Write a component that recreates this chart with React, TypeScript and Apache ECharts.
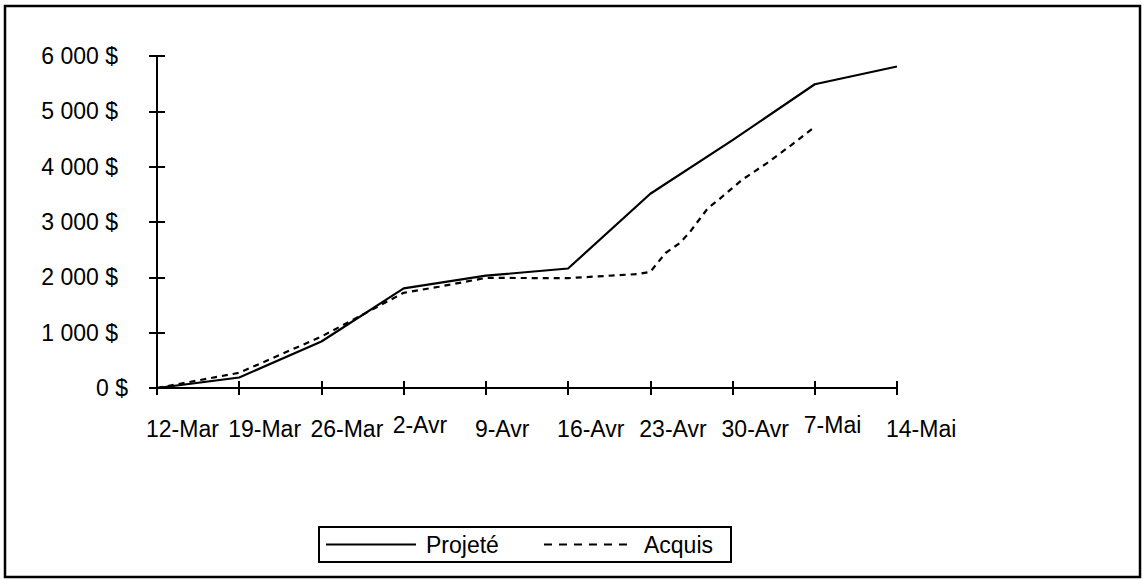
import React, { useEffect, useRef } from "react";
import * as echarts from "echarts";

const tickLabels = ["12-Mar", "19-Mar", "26-Mar", "2-Avr", "9-Avr", "16-Avr", "23-Avr", "30-Avr", "7-Mai", "14-Mai"];
const raisedLabels = ["2-Avr", "7-Mai"];
const projeteDays = [0, 7, 14, 21, 28, 35, 42, 49, 56, 63];
const projeteValues = [0, 190, 840, 1800, 2030, 2160, 3510, 4480, 5490, 5810];
const acquisDays = [0, 7, 14, 21, 24, 28, 35, 41, 42, 43.3, 44.5, 45.3, 46.9, 47.8, 49.8, 51.9, 54, 56];
const acquisValues = [0, 275, 930, 1720, 1830, 1990, 1985, 2060, 2100, 2440, 2620, 2800, 3250, 3400, 3760, 4060, 4390, 4720];
const seriesNames = ["Projeté", "Acquis"];

const FONT = "'Liberation Sans', Arial, sans-serif";
const FS = 23;

function fmtMoney(v: number): string {
  const s = String(Math.round(v));
  return s.replace(/\B(?=(\d{3})+(?!\d))/g, " ") + " $";
}

export default function App() {
  const ref = useRef<HTMLDivElement>(null);
  useEffect(() => {
    if (!ref.current) return;
    const chart = echarts.init(ref.current, null, { renderer: "svg" });
    const textBase = { fontFamily: FONT, fontSize: FS, color: "#000" };
    chart.setOption({
      animation: false,
      backgroundColor: "#fff",
      grid: [
        { left: 157, right: 246, top: 56, bottom: 192 },
        { left: 146, right: 257, top: 56, bottom: 192 },
      ],
      xAxis: [
        {
          type: "value", gridIndex: 0, min: 0, max: 63, interval: 7,
          axisLine: { show: true, onZero: false, lineStyle: { color: "#000", width: 2 } },
          axisTick: { show: false }, axisLabel: { show: false }, splitLine: { show: false },
        },
        {
          type: "value", gridIndex: 0, min: 0, max: 63, interval: 7, position: "bottom", offset: -7,
          axisLine: { show: false }, axisTick: { show: true, length: 14, lineStyle: { color: "#000", width: 2 } },
          axisLabel: { show: false }, splitLine: { show: false },
        },
        {
          type: "value", gridIndex: 1, min: 0, max: 63, interval: 7, position: "bottom",
          axisLine: { show: false }, axisTick: { show: false }, splitLine: { show: false },
          axisLabel: {
            show: true, align: "left", margin: 25,
            formatter: (v: number) => {
              const l = tickLabels[Math.round(v / 7)] ?? "";
              return raisedLabels.includes(l) ? `{b|${l}}` : `{a|${l}}`;
            },
            rich: {
              a: { ...textBase, padding: [4, 0, 0, 0] },
              b: { ...textBase },
            },
            ...textBase,
          },
        },
      ],
      yAxis: [
        {
          type: "value", gridIndex: 0, min: 0, max: 6000, interval: 1000,
          axisLine: { show: true, lineStyle: { color: "#000", width: 2 } },
          axisTick: { show: false }, splitLine: { show: false },
          axisLabel: {
            margin: 29,
            formatter: (v: number) => (v === 0 ? `{z|${fmtMoney(v)}}` : `{a|${fmtMoney(v)}}`),
            rich: {
              a: { ...textBase, padding: [0, 10, 0, 0] },
              z: { ...textBase },
            },
            ...textBase,
          },
        },
        {
          type: "value", gridIndex: 0, min: 0, max: 6000, interval: 1000, position: "left", offset: -8,
          axisLine: { show: false }, axisTick: { show: true, length: 16, lineStyle: { color: "#000", width: 2 } },
          axisLabel: { show: false }, splitLine: { show: false },
        },
        { type: "value", gridIndex: 1, show: false, min: 0, max: 6000 },
      ],
      legend: {
        data: [
          { name: seriesNames[0] },
          { name: seriesNames[1], lineStyle: { type: [8, 7], width: 2.2, color: "#000" } },
        ],
        left: 319, top: 527,
        orient: "horizontal",
        itemWidth: 90, itemHeight: 14, itemGap: 44,
        borderColor: "#000", borderWidth: 2,
        padding: [6, 18, 6, 6],
        itemStyle: { color: "rgba(0,0,0,0)", borderColor: "rgba(0,0,0,0)", borderWidth: 0 },
        textStyle: { ...textBase, padding: [0, 0, 0, 5] },
      },
      graphic: [
        {
          type: "rect", silent: true, z: 100,
          shape: { x: 5, y: 6, width: 1135, height: 571 },
          style: { fill: "none", stroke: "#000", lineWidth: 2.5 },
        },
      ],
      series: [
        {
          name: seriesNames[0], type: "line", xAxisIndex: 0, yAxisIndex: 0,
          data: projeteDays.map((d, i) => [d, projeteValues[i]]),
          symbol: "none", color: "#000",
          lineStyle: { color: "#000", width: 2.2, type: "solid" },
        },
        {
          name: seriesNames[1], type: "line", xAxisIndex: 0, yAxisIndex: 0,
          data: acquisDays.map((d, i) => [d, acquisValues[i]]),
          symbol: "none", color: "#000",
          lineStyle: { color: "#000", width: 2.2, type: [6, 5] },
        },
      ],
    });
    return () => chart.dispose();
  }, []);
  return <div ref={ref} style={{ position: "absolute", left: 0, top: 0, width: 1143, height: 580 }} />;
}
